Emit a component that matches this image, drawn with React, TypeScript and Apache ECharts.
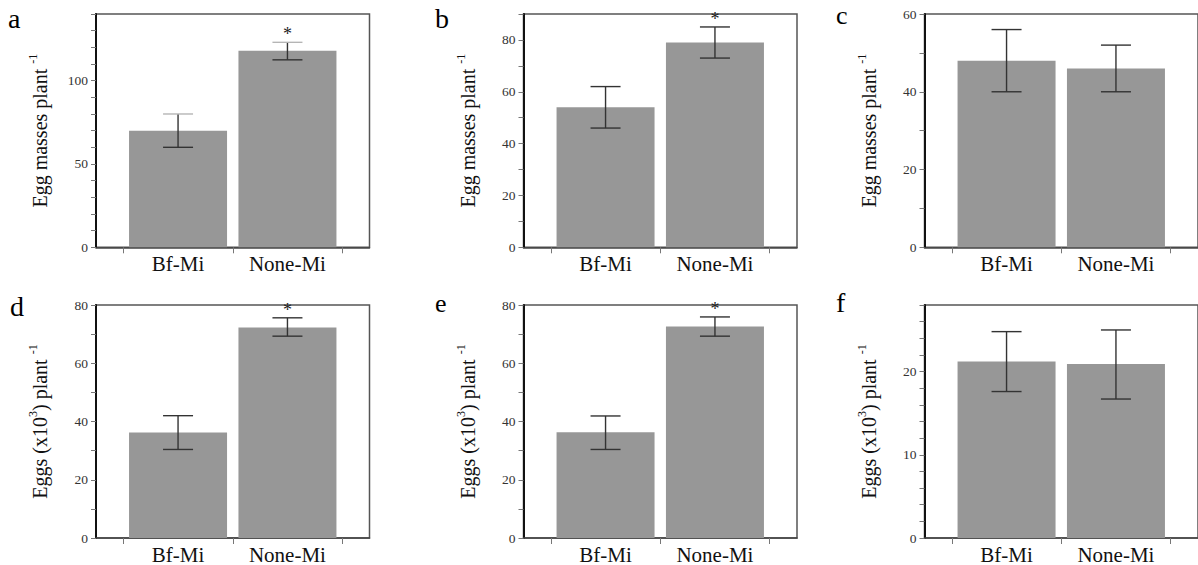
import React, { useEffect, useRef } from "react";
import * as echarts from "echarts";

// ---- data ----
const categories = ["Bf-Mi", "None-Mi"];
const panelLetters = ["a", "b", "c", "d", "e", "f"];

const eggMassesA = [70, 118];
const eggMassesALow = [60, 112.5];
const eggMassesAHigh = [80, 123];
const eggMassesASig = [false, true];

const eggMassesB = [54, 79];
const eggMassesBLow = [46, 73];
const eggMassesBHigh = [62, 85];
const eggMassesBSig = [false, true];

const eggMassesC = [48, 46];
const eggMassesCLow = [40, 40];
const eggMassesCHigh = [56, 52];
const eggMassesCSig = [false, false];

const eggsD = [36.2, 72.3];
const eggsDLow = [30.4, 69.3];
const eggsDHigh = [42, 75.6];
const eggsDSig = [false, true];

const eggsE = [36.3, 72.6];
const eggsELow = [30.4, 69.3];
const eggsEHigh = [41.9, 75.9];
const eggsESig = [false, true];

const eggsF = [21.2, 20.9];
const eggsFLow = [17.6, 16.7];
const eggsFHigh = [24.8, 25.0];
const eggsFSig = [false, false];

const yMax = [140, 90, 60, 80, 80, 28];
const yTickStep = [10, 10, 10, 10, 10, 2];
const yLabelStep = [50, 20, 20, 20, 20, 10];

const titleEggMasses = "{t|Egg masses plant }{s|-1}";
const titleEggs = "{t|Eggs (x10}{s|3}{t|) plant }{s|-1}";
const yTitles = [titleEggMasses, titleEggMasses, titleEggMasses, titleEggs, titleEggs, titleEggs];

const means = [eggMassesA, eggMassesB, eggMassesC, eggsD, eggsE, eggsF];
const lows = [eggMassesALow, eggMassesBLow, eggMassesCLow, eggsDLow, eggsELow, eggsFLow];
const highs = [eggMassesAHigh, eggMassesBHigh, eggMassesCHigh, eggsDHigh, eggsEHigh, eggsFHigh];
const sigs = [eggMassesASig, eggMassesBSig, eggMassesCSig, eggsDSig, eggsESig, eggsFSig];

// ---- layout ----
const FONT = "Liberation Serif";
const divLefts = [0, 400, 800];
const divWidths = [400, 400, 398];
const divTops = [0, 282];
const divHeights = [282, 283];
const gridLefts = [96, 123.5, 124.5];
const gridTops = [14, 23];
const gridW = 273.5;
const gridHs = [233.3, 234];
const letterPos = [
  [8, 4, 28],
  [35, 4, 28],
  [36, 2, 26],
  [10, 10, 28],
  [35, 8, 26],
  [36, 6, 28],
];

function Panel({ i }: { i: number }) {
  const ref = useRef<HTMLDivElement>(null);
  const r = Math.floor(i / 3);
  const c = i % 3;

  useEffect(() => {
    if (!ref.current) return;
    const chart = echarts.init(ref.current, undefined, { renderer: "svg" });
    const lstep = yLabelStep[i];
    const capColor = i === 0 ? "#b5b5b5" : "#333";

    chart.setOption({
      animation: false,
      grid: [
        {
          left: gridLefts[c],
          top: gridTops[r],
          width: gridW,
          height: gridHs[r],
          show: true,
          borderColor: "#555",
          borderWidth: 1.5,
        },
      ],
      xAxis: [
        {
          type: "value",
          gridIndex: 0,
          min: 0.25,
          max: 2.75,
          splitLine: { show: false },
          axisLine: { show: true, onZero: false, lineStyle: { color: "#444", width: 1.5 } },
          axisTick: { show: true, customValues: [0.5, 1.5, 2.5], length: 6, lineStyle: { color: "#777" } },
          axisLabel: {
            show: true,
            customValues: [1, 2],
            formatter: (v: number) => categories[Math.round(v) - 1] ?? "",
            fontFamily: FONT,
            fontSize: 21,
            color: "#111",
            margin: 6,
          },
        },
      ],
      yAxis: [
        {
          type: "value",
          gridIndex: 0,
          min: 0,
          max: yMax[i],
          interval: yTickStep[i],
          splitLine: { show: false },
          axisLine: { show: true, lineStyle: { color: "#111", width: 2 } },
          axisTick: { show: true, length: 5, lineStyle: { color: "#777" } },
          axisLabel: {
            show: true,
            formatter: (v: number) => (Math.abs(v % lstep) < 1e-6 ? String(v) : ""),
            fontFamily: FONT,
            fontSize: 13.5,
            color: "#333",
            margin: 8,
          },
          name: yTitles[i],
          nameLocation: "middle",
          nameRotate: 90,
          nameGap: 43,
          nameTextStyle: {
            fontFamily: FONT,
            fontSize: 20,
            color: "#111",
            rich: {
              t: { fontFamily: FONT, fontSize: 20, color: "#111", lineHeight: 26 },
              s: { fontFamily: FONT, fontSize: 12, color: "#111", verticalAlign: "top", lineHeight: 13 },
            },
          },
        },
      ],
      series: [
        {
          type: "bar",
          barWidth: 98,
          itemStyle: { color: "#979797" },
          data: categories.map((_, j) => [j + 1, means[i][j]]),
          z: 2,
        },
        {
          type: "custom",
          z: 5,
          encode: { x: 0, y: [1, 2] },
          data: categories.map((_, j) => [j + 1, lows[i][j], highs[i][j], sigs[i][j] ? 1 : 0]),
          renderItem: (params: any, api: any) => {
            const x = api.value(0);
            const pl = api.coord([x, api.value(1)]);
            const ph = api.coord([x, api.value(2)]);
            const s = api.value(3);
            const hw = 15;
            const st = { stroke: "#333", lineWidth: 1.4 };
            const children: any[] = [
              { type: "line", shape: { x1: pl[0], y1: pl[1], x2: ph[0], y2: ph[1] }, style: st },
              { type: "line", shape: { x1: pl[0] - hw, y1: pl[1], x2: pl[0] + hw, y2: pl[1] }, style: st },
              {
                type: "line",
                shape: { x1: ph[0] - hw, y1: ph[1], x2: ph[0] + hw, y2: ph[1] },
                style: { stroke: capColor, lineWidth: 1.4 },
              },
            ];
            if (s) {
              children.push({
                type: "text",
                x: ph[0] - 4.5,
                y: ph[1] - 17,
                style: {
                  text: "*",
                  font: `18px ${FONT}`,
                  fill: "#222",
                },
              });
            }
            return { type: "group", children };
          },
        },
      ],
      graphic: [
        {
          type: "text",
          x: letterPos[i][0],
          y: letterPos[i][1],
          style: {
            text: panelLetters[i],
            font: `${letterPos[i][2]}px ${FONT}`,
            fill: "#000",
          },
        },
      ],
    });

    return () => {
      chart.dispose();
    };
  }, [i]);

  return (
    <div
      ref={ref}
      style={{
        position: "absolute",
        left: divLefts[c],
        top: divTops[r],
        width: divWidths[c],
        height: divHeights[r],
      }}
    />
  );
}

export default function App() {
  return (
    <div style={{ position: "absolute", left: 0, top: 0, width: 1198, height: 565, background: "#fff" }}>
      {panelLetters.map((_, i) => (
        <Panel key={i} i={i} />
      ))}
    </div>
  );
}
